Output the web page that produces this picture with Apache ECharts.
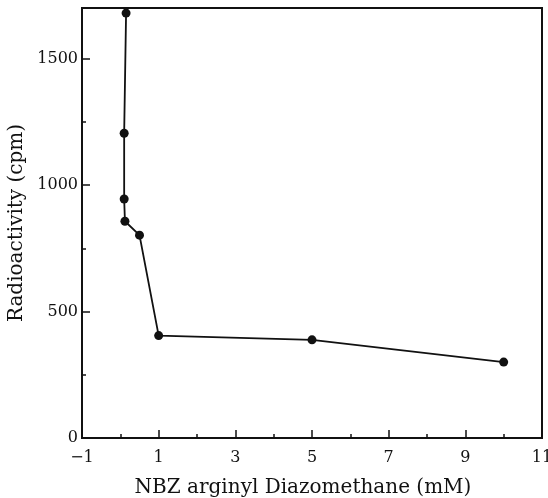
<!DOCTYPE html>
<html>
<head>
<meta charset="utf-8">
<script src="https://cdn.jsdelivr.net/npm/echarts@6/dist/echarts.min.js"></script>
<style>
  html, body { margin: 0; padding: 0; background: #fff; }
  #myChart { width: 548px; height: 498px; }
</style>
</head>
<body>
<div id="myChart"></div>
<script>
  // NBZ arginyl diazomethane concentration (mM) vs. radioactivity (cpm)
  var concentration = [0.15, 0.1, 0.1, 0.12, 0.5, 1, 5, 10];
  var radioactivity = [1680, 1205, 945, 857, 802, 405, 388, 300];

  var xMajorTicks = [-1, 1, 3, 5, 7, 9, 11];
  var xMinorTicks = [0, 2, 4, 6, 8, 10];
  var yMajorTicks = [0, 500, 1000, 1500];
  var yMinorTicks = [250, 750, 1250];

  var ink = '#111';
  var serif = 'DejaVu Serif';

  var points = concentration.map(function (x, i) { return [x, radioactivity[i]]; });

  var myChart = echarts.init(document.getElementById('myChart'));
  var option = {
    animation: false,
    backgroundColor: '#fff',
    grid: {
      left: 82, right: 6, top: 8, bottom: 60,
      containLabel: false,
      outerBoundsMode: 'none',
      show: true,
      borderColor: ink,
      borderWidth: 2
    },
    xAxis: [
      {
        type: 'value', min: -1, max: 11,
        name: 'NBZ arginyl Diazomethane (mM)',
        nameLocation: 'middle',
        nameGap: 40,
        nameTextStyle: { fontFamily: serif, fontSize: 20, color: ink, padding: [0, 18, 0, 0] },
        splitLine: { show: false },
        axisLine: { show: true, onZero: false, lineStyle: { color: ink, width: 2 } },
        axisTick: { show: true, inside: true, length: 8, customValues: xMajorTicks, lineStyle: { color: ink, width: 1.5 } },
        axisLabel: {
          customValues: xMajorTicks,
          margin: 12,
          fontFamily: serif, fontSize: 16, color: ink,
          formatter: function (v) { return v < 0 ? '\u2212' + Math.abs(v) : String(v); }
        }
      },
      {
        // minor ticks only
        type: 'value', min: -1, max: 11, position: 'bottom',
        splitLine: { show: false },
        axisLine: { show: false, onZero: false },
        axisTick: { show: true, inside: true, length: 4, customValues: xMinorTicks, lineStyle: { color: ink, width: 1.5 } },
        axisLabel: { show: false }
      }
    ],
    yAxis: [
      {
        type: 'value', min: 0, max: 1700,
        name: 'Radioactivity (cpm)',
        nameLocation: 'middle',
        nameGap: 47,
        nameTextStyle: { fontFamily: serif, fontSize: 20, color: ink },
        splitLine: { show: false },
        axisLine: { show: true, onZero: false, lineStyle: { color: ink, width: 2 } },
        axisTick: { show: true, inside: true, length: 8, customValues: yMajorTicks, lineStyle: { color: ink, width: 1.5 } },
        axisLabel: {
          customValues: yMajorTicks,
          margin: 4,
          fontFamily: serif, fontSize: 16, color: ink,
          formatter: function (v) { return String(v); }
        }
      },
      {
        // minor ticks only
        type: 'value', min: 0, max: 1700, position: 'left',
        splitLine: { show: false },
        axisLine: { show: false, onZero: false },
        axisTick: { show: true, inside: true, length: 4, customValues: yMinorTicks, lineStyle: { color: ink, width: 1.5 } },
        axisLabel: { show: false }
      }
    ],
    series: [
      {
        type: 'line',
        xAxisIndex: 0,
        yAxisIndex: 0,
        data: points,
        symbol: 'circle',
        symbolSize: 9,
        lineStyle: { color: ink, width: 1.8 },
        itemStyle: { color: ink },
        clip: false
      }
    ]
  };
  myChart.setOption(option, true);
</script>
</body>
</html>
